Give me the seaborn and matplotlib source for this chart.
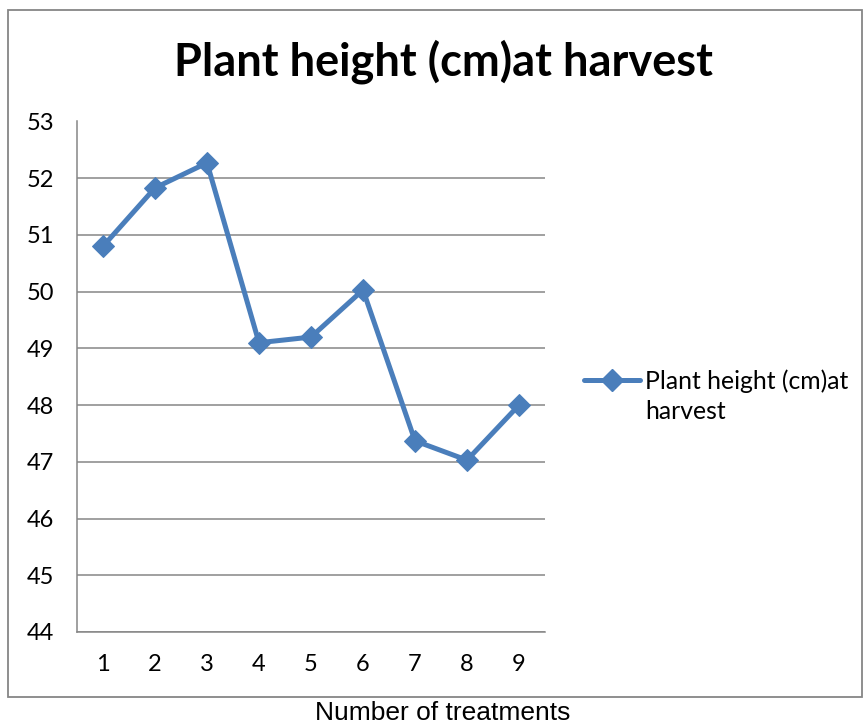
import matplotlib
matplotlib.use("Agg")
import matplotlib.pyplot as plt
import seaborn as sns
import pandas as pd
import numpy as np
from matplotlib.patches import Rectangle
from matplotlib.lines import Line2D

treatments = [1, 2, 3, 4, 5, 6, 7, 8, 9]
heights = [50.8, 51.83, 52.27, 49.1, 49.2, 50.03, 47.37, 47.03, 48.0]
series_line1 = "Plant height (cm)at"
series_line2 = "harvest"
title = "Plant height (cm)at harvest"
xlabel = "Number of treatments"
yticks = [44, 45, 46, 47, 48, 49, 50, 51, 52, 53]

df = pd.DataFrame({"treatment": treatments, "height": heights})

sns.set_style("white")
plt.rcParams['font.family'] = ['Lato', 'DejaVu Sans']
plt.rcParams['text.color'] = 'black'
plt.rcParams['xtick.labelcolor'] = 'black'
plt.rcParams['ytick.labelcolor'] = 'black'

fig = plt.figure(figsize=(8.64, 7.26), dpi=100)
ax = fig.add_axes([77/864, 1-632/726, (545-77)/864, (632-121.5)/726])

grey = "#868686"
blue = "#4A7EBB"

sns.lineplot(data=df, x="treatment", y="height", ax=ax, color=blue, lw=3.6,
             marker="D", markersize=11, markeredgecolor=blue, legend=False)

ax.set_xlim(0.5, 9.5)
ax.set_ylim(44, 53)
ax.set_yticks(yticks)
ax.set_yticklabels([str(v) for v in yticks])
ax.yaxis.grid(True, color=grey, lw=1.1)
ax.set_axisbelow(True)

ax.set_xticks(np.arange(0.5, 10, 1.0))
ax.set_xticklabels([])
ax.set_xticks(treatments, minor=True)
ax.set_xticklabels([str(t) for t in treatments], minor=True)
ax.tick_params(axis='x', which='major', length=5.5, width=1.1, color=grey, direction='out')
ax.tick_params(axis='x', which='minor', length=0, pad=16, labelsize=17, labelcolor='black')
ax.tick_params(axis='y', length=5.5, width=1.1, color=grey, direction='out', pad=11,
               labelsize=17, labelcolor='black')
ax.set_xlabel("")
ax.set_ylabel("")

for s in ['top', 'right']:
    ax.spines[s].set_visible(False)
for s in ['left', 'bottom']:
    ax.spines[s].set_color(grey)
    ax.spines[s].set_linewidth(1.1)

# chart border
fig.patches.append(Rectangle((8/864, 1-697/726), (862-8)/864, (697-10)/726,
                             transform=fig.transFigure, fill=False,
                             edgecolor=grey, lw=1.3))

fig.text(443/864, 1-62/726, title, ha='center', va='center',
         fontsize=32.5, fontweight='bold', color='black')

fig.text(443/864, 1-713/726, xlabel, ha='center', va='center',
         fontsize=19, family=['Liberation Sans', 'DejaVu Sans'], color='black')

handle = Line2D([], [], color=blue, lw=3.6, marker="D", markersize=11)
blank = Line2D([], [], color='none', lw=0)
leg = fig.legend([handle, blank], [series_line1, series_line2], loc='upper left',
                 bbox_to_anchor=(572/864, 1-357/726), frameon=False,
                 fontsize=17.8, handlelength=2.25, handletextpad=0.22,
                 labelspacing=0.3, borderpad=0.0)
for t in leg.get_texts():
    t.set_color('black')

fig.savefig("out.png", dpi=100)
